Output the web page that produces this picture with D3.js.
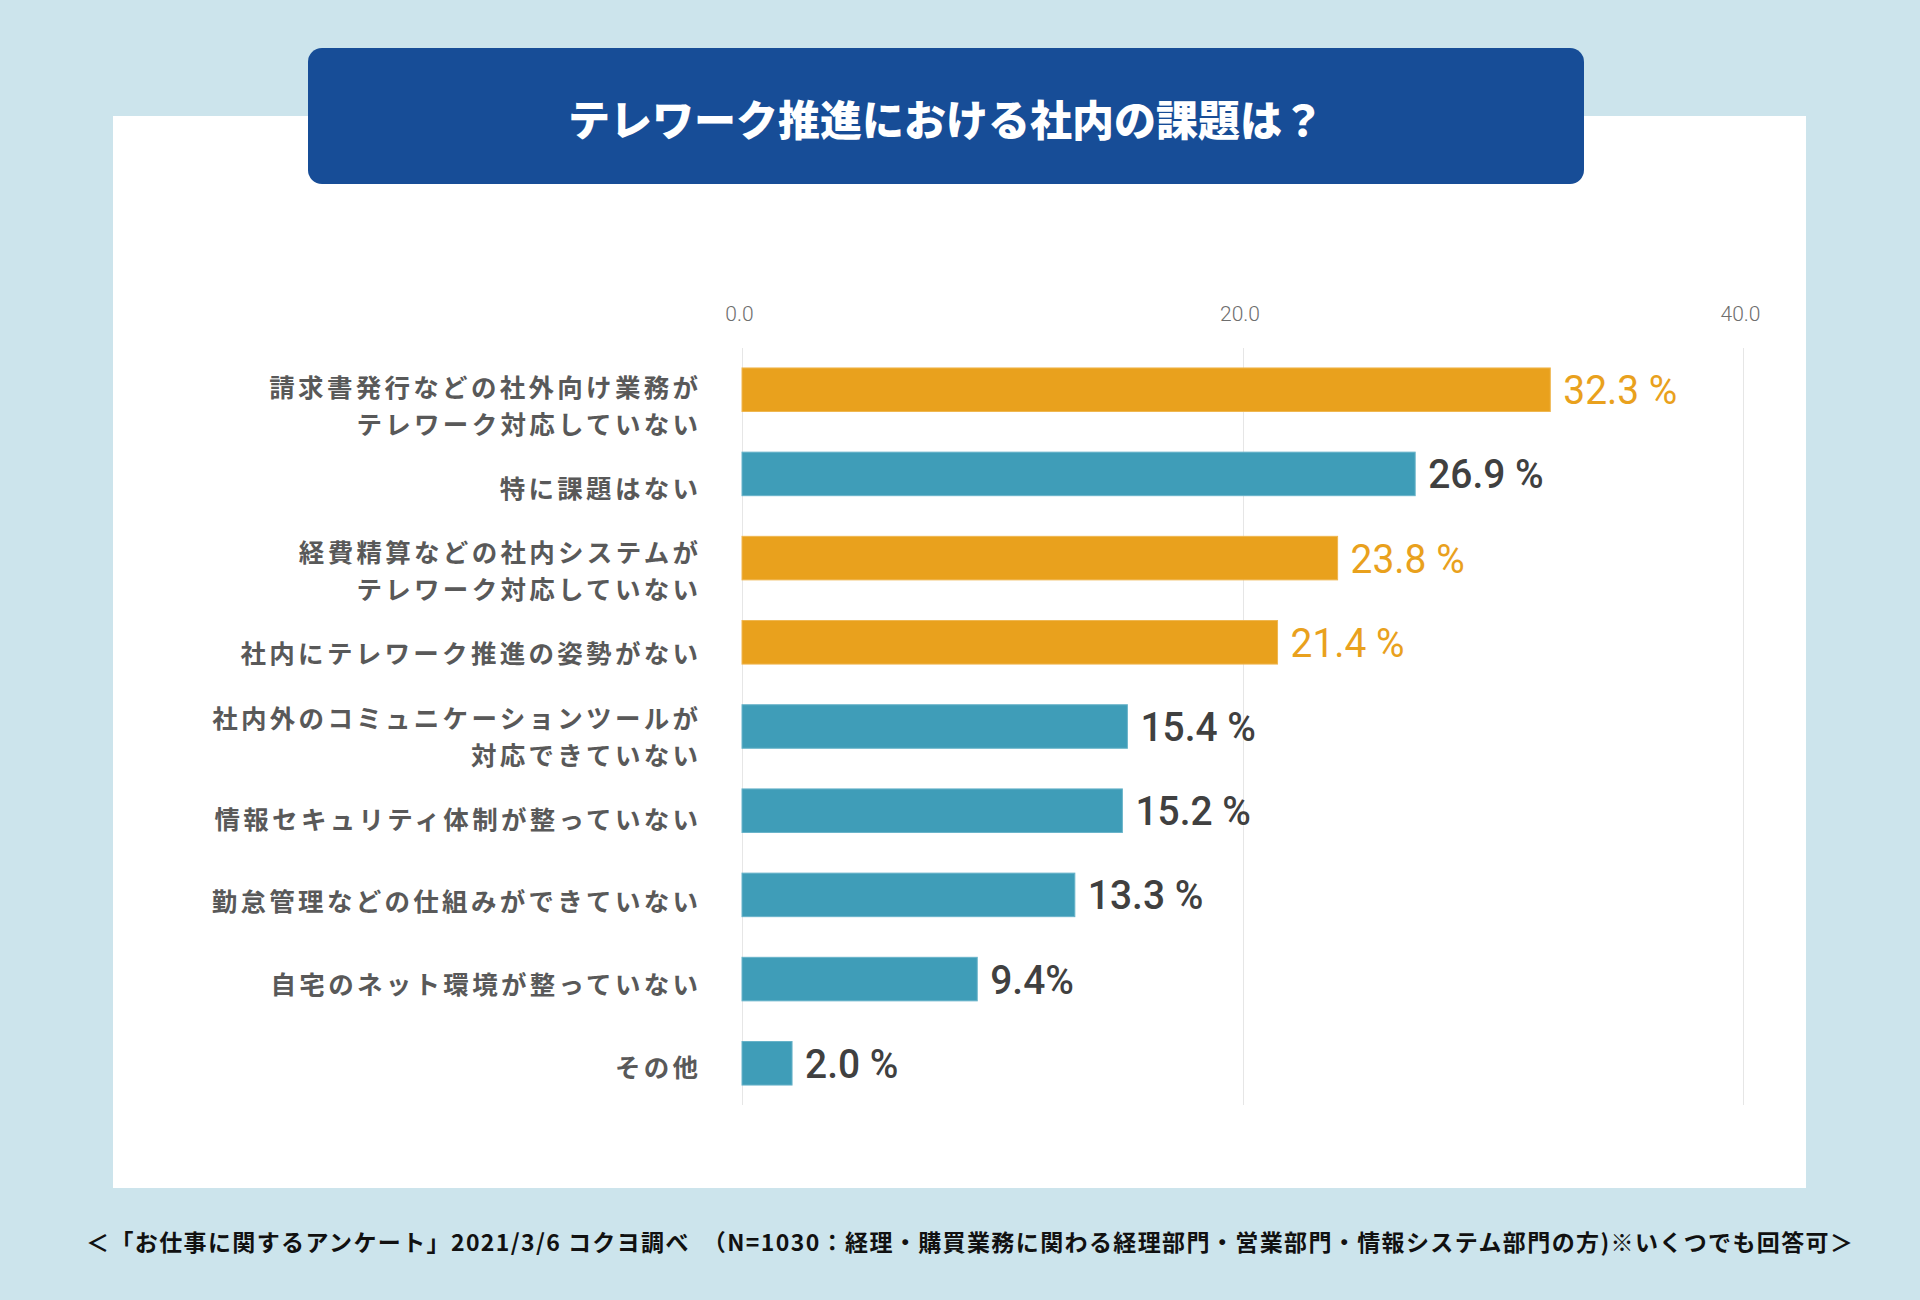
<!DOCTYPE html>
<html>
<head>
<meta charset="utf-8">
<script src="https://cdn.jsdelivr.net/npm/d3@7"></script>
<style>
  html, body { margin: 0; padding: 0; background: #cce4ec; }
  svg { display: block; }
</style>
</head>
<body>
<svg id="chart" width="1920" height="1300"></svg>
<script>
const title = "テレワーク推進における社内の課題は？";
const categories = [
  "請求書発行などの社外向け業務が\nテレワーク対応していない",
  "特に課題はない",
  "経費精算などの社内システムが\nテレワーク対応していない",
  "社内にテレワーク推進の姿勢がない",
  "社内外のコミュニケーションツールが\n対応できていない",
  "情報セキュリティ体制が整っていない",
  "勤怠管理などの仕組みができていない",
  "自宅のネット環境が整っていない",
  "その他"
];
const values = [32.3, 26.9, 23.8, 21.4, 15.4, 15.2, 13.3, 9.4, 2.0];
const valueLabels = ["32.3 %", "26.9 %", "23.8 %", "21.4 %", "15.4 %", "15.2 %", "13.3 %", "9.4%", "2.0 %"];
const highlighted = [true, false, true, true, false, false, false, false, false];
const tickValues = [0, 20, 40];
const tickLabels = ["0.0", "20.0", "40.0"];
const footnote = "＜「お仕事に関するアンケート」2021/3/6 コクヨ調べ　（N=1030：経理・購買業務に関わる経理部門・営業部門・情報システム部門の方)※いくつでも回答可＞";

const COLORS = {
  bg: "#cce4ec", panel: "#ffffff", titleBox: "#174d97",
  orange: "#e9a11d", teal: "#3f9db8",
  orangeStroke: "#efb650", tealStroke: "#68b3c9",
  darkText: "#404040", label: "#595959", tick: "#6e6e6e", grid: "#e6e6e6"
};
const JP = "'Noto Sans CJK JP', 'Noto Sans', sans-serif";
const NUM = "Roboto, 'Noto Sans', sans-serif";

const svg = d3.select("#chart");

// background
svg.append("rect").attr("x", 0).attr("y", 0).attr("width", 1920).attr("height", 1300).attr("fill", COLORS.bg);
// white panel
svg.append("rect").attr("x", 113).attr("y", 116).attr("width", 1693).attr("height", 1072).attr("fill", COLORS.panel);
// title box
svg.append("rect").attr("x", 308).attr("y", 48).attr("width", 1276).attr("height", 136).attr("rx", 14).attr("ry", 14).attr("fill", COLORS.titleBox);
svg.append("text")
  .attr("x", 946).attr("y", 117)
  .attr("text-anchor", "middle").attr("dominant-baseline", "central")
  .attr("fill", "#ffffff").attr("font-family", JP).attr("font-weight", 900)
  .attr("font-size", 42)
  .text(title);

// scales
const x = d3.scaleLinear().domain([0, 40]).range([742, 1743]);
const y = d3.scaleBand().domain(categories).range([348, 1105]).paddingInner(0.483).paddingOuter(0.237);
const yLabel = d3.scalePoint().domain(categories).range([404, 1065]);

// gridlines
svg.append("g").selectAll("line").data(tickValues).join("line")
  .attr("x1", d => Math.round(x(d)) + 0.5).attr("x2", d => Math.round(x(d)) + 0.5)
  .attr("y1", 348).attr("y2", 1105)
  .attr("stroke", COLORS.grid).attr("stroke-width", 1);

// top axis tick labels
const axis = d3.axisTop(x).tickValues(tickValues).tickFormat((d, i) => tickLabels[i]).tickSize(0).tickPadding(0);
const axisG = svg.append("g").attr("transform", "translate(-3,321)").call(axis);
axisG.select(".domain").remove();
axisG.selectAll("text")
  .attr("font-family", NUM).attr("font-weight", 300).attr("font-size", 21)
  .attr("fill", COLORS.tick).attr("dy", 0);

// bars
const data = categories.map((c, i) => ({ c, v: values[i], label: valueLabels[i], hi: highlighted[i] }));
svg.append("g").selectAll("rect").data(data).join("rect")
  .attr("x", x(0))
  .attr("y", d => y(d.c))
  .attr("width", d => x(d.v) - x(0))
  .attr("height", y.bandwidth())
  .attr("fill", d => d.hi ? COLORS.orange : COLORS.teal)
  .attr("stroke", d => d.hi ? COLORS.orangeStroke : COLORS.tealStroke)
  .attr("stroke-width", 1);

// value labels
svg.append("g").selectAll("text").data(data).join("text")
  .attr("x", d => x(d.v) + 13)
  .attr("y", d => y(d.c) + y.bandwidth() / 2)
  .attr("dy", "0.355em")
  .attr("font-family", NUM).attr("font-size", 41)
  .attr("font-weight", d => d.hi ? 400 : 500)
  .attr("fill", d => d.hi ? COLORS.orange : COLORS.darkText)
  .attr("transform", d => `translate(${x(d.v) + 13},0) scale(0.95,1) translate(${-(x(d.v) + 13)},0)`)
  .text(d => d.label);

// category labels (each line a separate text)
const FS = 25.5, LS = 3.3, LH = 37;
const catG = svg.append("g");
data.forEach(d => {
  const lines = d.c.split("\n");
  const cy = yLabel(d.c);
  lines.forEach((ln, k) => {
    catG.append("text")
      .attr("text-anchor", "end")
      .attr("x", 698 + LS)
      .attr("y", cy + (k - (lines.length - 1) / 2) * LH)
      .attr("dominant-baseline", "central")
      .attr("font-family", JP).attr("font-weight", 700).attr("font-size", FS)
      .attr("letter-spacing", LS)
      .attr("fill", COLORS.label)
      .text(ln);
  });
});

// footnote
svg.append("text")
  .attr("x", 86).attr("y", 1241)
  .attr("dominant-baseline", "central")
  .attr("font-family", JP).attr("font-weight", 700).attr("font-size", 23)
  .attr("fill", "#111111")
  .attr("textLength", 1767).attr("lengthAdjust", "spacing")
  .text(footnote);
</script>
</body>
</html>
